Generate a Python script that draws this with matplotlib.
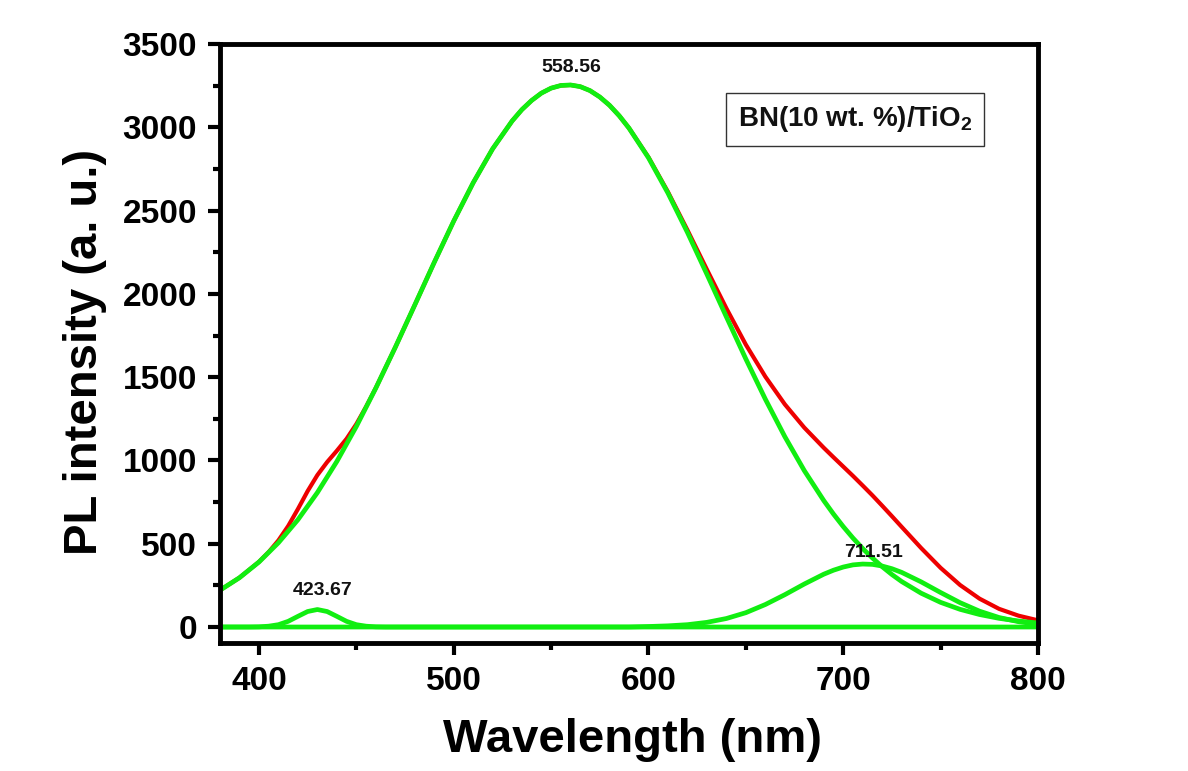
import matplotlib
matplotlib.use("Agg")
import matplotlib.pyplot as plt
from matplotlib.ticker import MultipleLocator

plt.rcParams['font.family'] = ['Liberation Sans', 'DejaVu Sans']
plt.rcParams['font.weight'] = 'bold'
plt.rcParams['mathtext.fontset'] = 'custom'
plt.rcParams['mathtext.rm'] = 'Liberation Sans:bold'
plt.rcParams['mathtext.bf'] = 'Liberation Sans:bold'

# ---- data ----
# measured spectrum (red)
wl_red = [380, 390, 400, 405, 410, 415, 420, 425, 430, 435, 440, 445, 450, 455, 460,
          470, 480, 490, 500, 510, 520, 530, 535, 540, 545, 550, 555, 560, 565, 570,
          575, 580, 585, 590, 600, 610, 620, 630, 640, 650, 660, 670, 680, 690, 695,
          700, 705, 710, 715, 720, 725, 730, 740, 750, 760, 770, 780, 790, 800]
pl_red = [221, 296, 391, 450, 520, 606, 708, 816, 912, 990, 1058, 1130, 1218, 1322, 1435,
          1679, 1933, 2189, 2437, 2667, 2871, 3038, 3106, 3161, 3205, 3235, 3251, 3254, 3244, 3220,
          3182, 3132, 3069, 2995, 2820, 2612, 2383, 2146, 1913, 1695, 1503, 1337, 1197, 1076, 1019,
          963, 907, 849, 790, 728, 665, 601, 474, 355, 252, 170, 109, 68, 40]

# fitted component peaked at 558.56 nm
wl_main = [380, 390, 400, 410, 420, 430, 440, 450, 460, 470, 480, 490, 500, 510, 520,
           530, 535, 540, 545, 550, 555, 560, 565, 570, 575, 580, 585, 590, 600, 610,
           620, 630, 640, 650, 660, 670, 680, 690, 695, 700, 705, 710, 715, 720, 725,
           730, 740, 750, 760, 770, 780, 790, 800]
pl_main = [221, 296, 390, 506, 644, 807, 994, 1204, 1434, 1679, 1933, 2189, 2437, 2667, 2871,
           3038, 3106, 3161, 3205, 3235, 3251, 3254, 3244, 3220, 3182, 3132, 3069, 2995, 2817, 2605,
           2369, 2118, 1862, 1609, 1368, 1143, 939, 759, 678, 603, 534, 471, 414, 362, 315,
           273, 203, 148, 106, 75, 52, 36, 24]

# fitted component peaked at 423.67 nm
wl_p1 = [380, 395, 400, 405, 410, 415, 420, 425, 430, 435, 440, 445, 450, 455, 460, 465, 800]
pl_p1 = [0, 0, 1, 5, 14, 34, 64, 93, 105, 93, 64, 34, 14, 5, 1, 0, 0]

# fitted component peaked at 711.51 nm
wl_p3 = [380, 590, 600, 610, 620, 630, 640, 650, 660, 670, 680, 690, 695, 700, 705,
         710, 715, 720, 725, 730, 740, 750, 760, 770, 780, 790, 800]
pl_p3 = [0, 0, 3, 7, 14, 28, 51, 86, 135, 194, 258, 317, 341, 360, 373,
         378, 376, 366, 350, 328, 271, 207, 146, 95, 57, 32, 16]

peak_labels = ["423.67", "558.56", "711.51"]
peak_label_pos = [(432.9, 192), (560.4, 3330), (715.7, 420)]
sample_label = r"BN(10 wt. %)/TiO$_\mathbf{2}$"

# ---- figure ----
fig = plt.figure(figsize=(11.88, 7.71), dpi=100)
ax = fig.add_axes([220 / 1188, 1 - 643 / 771, (1038 - 220) / 1188, (643 - 44) / 771])

red = '#ee0000'
green = '#11ee11'
ax.plot(wl_red, pl_red, color=red, lw=3.0, solid_joinstyle='round')
ax.plot(wl_p1, pl_p1, color=green, lw=3.4, solid_joinstyle='round')
ax.plot(wl_p3, pl_p3, color=green, lw=3.4, solid_joinstyle='round')
ax.plot(wl_main, pl_main, color=green, lw=3.4, solid_joinstyle='round')

for txt, (x, y) in zip(peak_labels, peak_label_pos):
    ax.text(x, y, txt, ha='center', va='baseline', fontsize=14, fontweight='bold',
            color='#111111')

ax.text(0.776, 0.874, sample_label, transform=ax.transAxes, ha='center', va='center',
        fontsize=20, fontweight='bold', color='#111111',
        bbox=dict(boxstyle='square,pad=0.42', facecolor='white', edgecolor='#333333', lw=1.0))

ax.set_xlim(380, 800)
ax.set_ylim(-96, 3500)
ax.xaxis.set_major_locator(MultipleLocator(100))
ax.xaxis.set_minor_locator(MultipleLocator(50))
ax.yaxis.set_major_locator(MultipleLocator(500))
ax.yaxis.set_minor_locator(MultipleLocator(250))

for s in ax.spines.values():
    s.set_linewidth(3.5)
ax.tick_params(which='both', direction='out', top=False, right=False, width=3.0)
ax.tick_params(which='major', length=8.5, labelsize=24, pad=8)
ax.tick_params(which='minor', length=5)
for lab in ax.get_xticklabels() + ax.get_yticklabels():
    lab.set_fontweight('bold')

ax.set_xlabel('Wavelength (nm)', fontsize=34, fontweight='bold')
ax.set_ylabel('PL intensity (a. u.)', fontsize=34, fontweight='bold')
ax.xaxis.set_label_coords(0.504, -0.125)
ax.yaxis.set_label_coords(-0.138, 0.486)

fig.savefig('out.png', dpi=100, facecolor='white')
